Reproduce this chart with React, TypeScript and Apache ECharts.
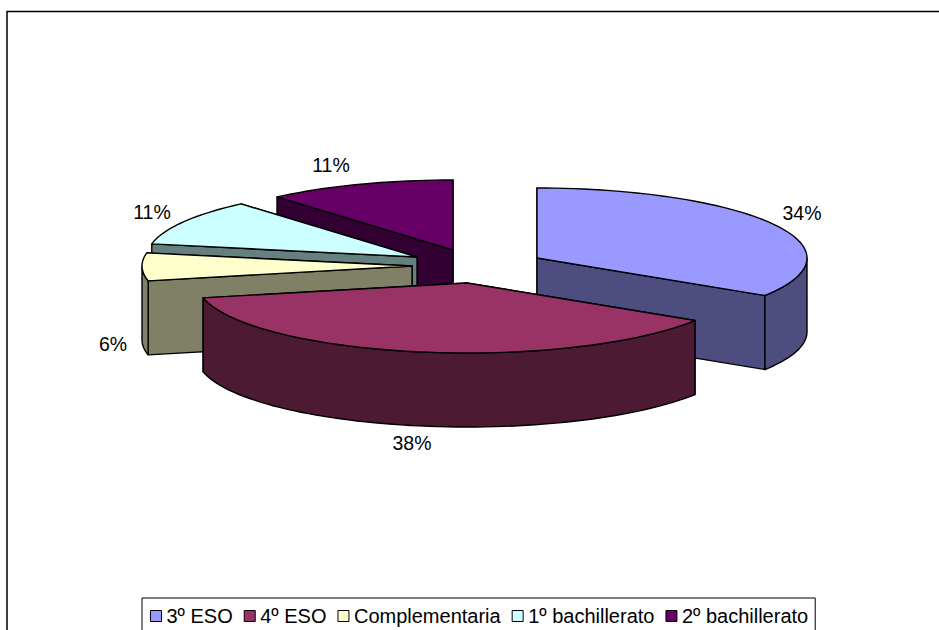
import React, { useEffect, useRef } from "react";
import * as echarts from "echarts";

const categories = ["3º ESO", "4º ESO", "Complementaria", "1º bachillerato", "2º bachillerato"];
const values = [34, 37.6, 6.4, 10.7, 11.3];

const topColors = ["#9999FF", "#993366", "#FFFFCC", "#CCFFFF", "#660066"];
const wallColors = ["#4D4D80", "#4D1A33", "#808066", "#668080", "#330033"];

// Exploded slice apex positions and label centres (layout, in pixels)
const apexes = [[537, 258], [467, 283], [412, 266], [417, 257], [453, 250]];
const labelCentres = [[802, 213], [412, 443], [113, 344], [152, 212], [331, 165]];
// Slices are painted back to front
const paintOrder = [4, 3, 2, 0, 1];

const RX = 270;
const RY = 70;
const DEPTH = 74;
const LINE = 1.4;
const FONT = '19.5px "Liberation Sans", Arial, sans-serif';

const total = values.reduce((a, b) => a + b, 0);

function startAngle(index: number) {
  let sum = 0;
  for (let i = 0; i < index; i++) sum += values[i];
  return (sum / total) * 360;
}

function rim(cx: number, cy: number, deg: number, drop = 0) {
  const r = (deg * Math.PI) / 180;
  return [cx + RX * Math.sin(r), cy - RY * Math.cos(r) + drop];
}

function arc(cx: number, cy: number, a0: number, a1: number, drop = 0) {
  const pts: number[][] = [];
  const n = Math.max(2, Math.ceil(Math.abs(a1 - a0) / 2));
  for (let i = 0; i <= n; i++) pts.push(rim(cx, cy, a0 + ((a1 - a0) * i) / n, drop));
  return pts;
}

function App() {
  const ref = useRef<HTMLDivElement>(null);

  useEffect(() => {
    const chart = echarts.init(ref.current!, undefined, { renderer: "svg" });

    const series = paintOrder.map((i) => ({
      type: "custom",
      name: categories[i],
      coordinateSystem: "none",
      silent: true,
      z: 2,
      itemStyle: { color: topColors[i] },
      data: [[values[i]]],
      renderItem: (_params: any, api: any) => {
        const value = api.value(0) as number;
        const a0 = startAngle(i);
        const a1 = a0 + (value / total) * 360;
        const [cx, cy] = apexes[i];
        const poly = (points: number[][], fill: string) => ({
          type: "polygon",
          shape: { points },
          style: { fill, stroke: "#000", lineWidth: LINE, lineJoin: "round" },
        });
        const children: any[] = [];
        // Radial walls: the one whose rim point is further back goes first
        [a0, a1]
          .map((a) => rim(cx, cy, a))
          .sort((p, q) => p[1] - q[1])
          .forEach((p) => {
            children.push(
              poly([[cx, cy], p, [p[0], p[1] + DEPTH], [cx, cy + DEPTH]], wallColors[i])
            );
          });
        const w0 = Math.max(a0, 90);
        const w1 = Math.min(a1, 270);
        if (w1 > w0) {
          children.push(
            poly(
              [...arc(cx, cy, w0, w1), ...arc(cx, cy, w1, w0, DEPTH)],
              wallColors[i]
            )
          );
        }
        children.push(poly([[cx, cy], ...arc(cx, cy, a0, a1)], topColors[i]));
        return { type: "group", children };
      },
    }));

    const labels = {
      type: "custom",
      coordinateSystem: "none",
      silent: true,
      z: 3,
      data: values.map((v, i) => [v, i]),
      renderItem: (_params: any, api: any) => {
        const i = api.value(1) as number;
        return {
          type: "text",
          x: labelCentres[i][0],
          y: labelCentres[i][1],
          style: {
            text: `${Math.round(((api.value(0) as number) / total) * 100)}%`,
            font: FONT,
            fill: "#000",
            align: "center",
            verticalAlign: "middle",
          },
        };
      },
    };

    chart.setOption({
      animation: false,
      backgroundColor: "#fff",
      legend: {
        left: 142,
        top: 598,
        data: categories,
        icon: "rect",
        orient: "horizontal",
        itemWidth: 11,
        itemHeight: 11,
        itemGap: 11,
        padding: [8, 7, 30, 8],
        borderColor: "#000",
        borderWidth: 1,
        selectedMode: false,
        itemStyle: { borderColor: "#000", borderWidth: 1 },
        textStyle: {
          color: "#000",
          fontFamily: '"Liberation Sans", Arial, sans-serif',
          fontSize: 20,
        },
      },
      graphic: [
        {
          type: "polyline",
          silent: true,
          shape: { points: [[939, 11.5], [7, 11.5], [7, 630]] },
          style: { fill: "none", stroke: "#000", lineWidth: 1.5 },
        },
      ],
      series: [...series, labels],
    });

    return () => chart.dispose();
  }, []);

  return (
    <div
      ref={ref}
      style={{ position: "absolute", left: 0, top: 0, width: 939, height: 630, overflow: "hidden" }}
    />
  );
}

export default App;
